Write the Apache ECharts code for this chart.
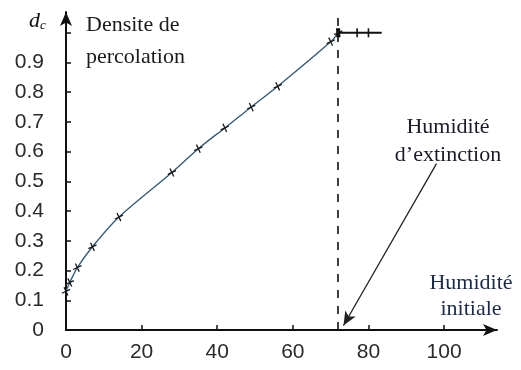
<!DOCTYPE html>
<html>
<head>
<meta charset="utf-8">
<script src="https://cdn.jsdelivr.net/npm/echarts@6/dist/echarts.min.js"></script>
<style>
  html, body { margin: 0; padding: 0; background: #fff; }
  #chart { width: 521px; height: 370px; }
</style>
</head>
<body>
<div id="chart"></div>
<script>
// humidite initiale (x) / densite de percolation (y)
var humidite = [0, 1, 3, 7, 14, 28, 35, 42, 49, 56, 70, 72];
var densite = [0.13, 0.16, 0.21, 0.28, 0.38, 0.53, 0.61, 0.68, 0.75, 0.82, 0.97, 1.0];
// palier apres l'humidite d'extinction
var palierX = [72, 77, 80, 83.5];
var palierY = [1.0, 1.0, 1.0, 1.0];
var extinction = 72;
var xTicks = [0, 20, 40, 60, 80, 100];
var yTicks = ['0', '0.1', '0.2', '0.3', '0.4', '0.5', '0.6', '0.7', '0.8', '0.9'];

var serif = '"Liberation Serif", "DejaVu Serif", serif';
var sans = '"Liberation Sans", Arial, sans-serif';

function pairs(xs, ys) {
  return xs.map(function (x, i) { return [x, ys[i]]; });
}

var myChart = echarts.init(document.getElementById('chart'));

var option = {
  animation: false,
  backgroundColor: '#fff',
  grid: { left: 66, right: 24, top: 12, bottom: 40 },
  xAxis: {
    type: 'value',
    min: 0,
    max: 114,
    interval: 20,
    splitLine: { show: false },
    axisLine: {
      onZero: false,
      lineStyle: { color: '#111', width: 2 },
      symbol: ['none', 'arrow'],
      symbolSize: [9, 14]
    },
    axisTick: { inside: true, length: 5, lineStyle: { color: '#111', width: 1.5 } },
    axisLabel: {
      color: '#2a2a2a',
      fontFamily: sans,
      fontSize: 21,
      margin: 12,
      showMaxLabel: false,
      formatter: function (v) { return xTicks.indexOf(v) >= 0 ? String(v) : ''; }
    }
  },
  yAxis: {
    type: 'value',
    min: 0,
    max: 1.07,
    interval: 0.1,
    splitLine: { show: false },
    axisLine: {
      lineStyle: { color: '#111', width: 2 },
      symbol: ['none', 'arrow'],
      symbolSize: [9, 14]
    },
    axisTick: { inside: true, length: 5, lineStyle: { color: '#111', width: 1.5 } },
    axisLabel: {
      color: '#2a2a2a',
      fontFamily: sans,
      fontSize: 21,
      margin: 22,
      showMaxLabel: false,
      verticalAlign: 'middle',
      padding: [0, 0, 10, 0],
      formatter: function (v) {
        var i = Math.round(v * 10);
        return i < yTicks.length ? yTicks[i] : '';
      }
    }
  },
  series: [
    {
      name: 'densite',
      type: 'line',
      data: pairs(humidite, densite),
      smooth: 0.3,
      symbol: 'path://M0,5L10,5M5,0L5,10',
      symbolSize: 9,
      symbolRotate: 25,
      itemStyle: { color: 'none', borderColor: '#1a1a1a', borderWidth: 1.3 },
      lineStyle: { color: '#2f5878', width: 1.3 },
      markLine: {
        silent: true,
        symbol: ['none', 'none'],
        label: { show: false },
        lineStyle: { color: '#111', type: [8, 8], width: 1.6 },
        data: [{ xAxis: extinction }]
      }
    },
    {
      name: 'palier',
      type: 'line',
      data: pairs(palierX, palierY),
      // pas de repere au bout du palier
      symbol: function (v, params) {
        return params.dataIndex === palierX.length - 1 ? 'none' : 'rect';
      },
      symbolSize: function (v, params) {
        return params.dataIndex === 0 ? [4, 9] : [1.6, 9];
      },
      showSymbol: true,
      itemStyle: { color: '#111' },
      lineStyle: { color: '#111', width: 2 },
      markLine: {
        silent: true,
        symbol: ['none', 'arrow'],
        symbolSize: [9, 14],
        label: { show: false },
        lineStyle: { color: '#222', type: 'solid', width: 1.3 },
        data: [[{ coord: [98, 0.56] }, { coord: [73.4, 0.015] }]]
      }
    }
  ],
  graphic: [
    {
      type: 'text', left: 29, top: 10,
      style: {
        text: '{d|d}{c|c}',
        rich: {
          d: { fontFamily: serif, fontStyle: 'italic', fontSize: 22, fill: '#111' },
          c: { fontFamily: serif, fontStyle: 'italic', fontSize: 13, fill: '#111', padding: [10, 0, 0, 0] }
        }
      }
    },
    {
      type: 'text', left: 86, top: 9,
      style: { text: 'Densite de\npercolation', fontFamily: serif, fontSize: 22, lineHeight: 32, fill: '#1a1a1a' }
    },
    {
      type: 'text', x: 448, y: 141,
      style: { text: 'Humidité\nd\u2019extinction', fontFamily: serif, fontSize: 22, lineHeight: 28, fill: '#1a1a2a', align: 'center', verticalAlign: 'middle' },
      z: 10
    },
    {
      type: 'text', x: 471, y: 296,
      style: { text: 'Humidité\ninitiale', fontFamily: serif, fontSize: 22, lineHeight: 26, fill: '#1a2a4a', align: 'center', verticalAlign: 'middle' },
      z: 10
    }
  ]
};

myChart.setOption(option);
window.addEventListener('resize', function () { myChart.resize(); });
</script>
</body>
</html>
